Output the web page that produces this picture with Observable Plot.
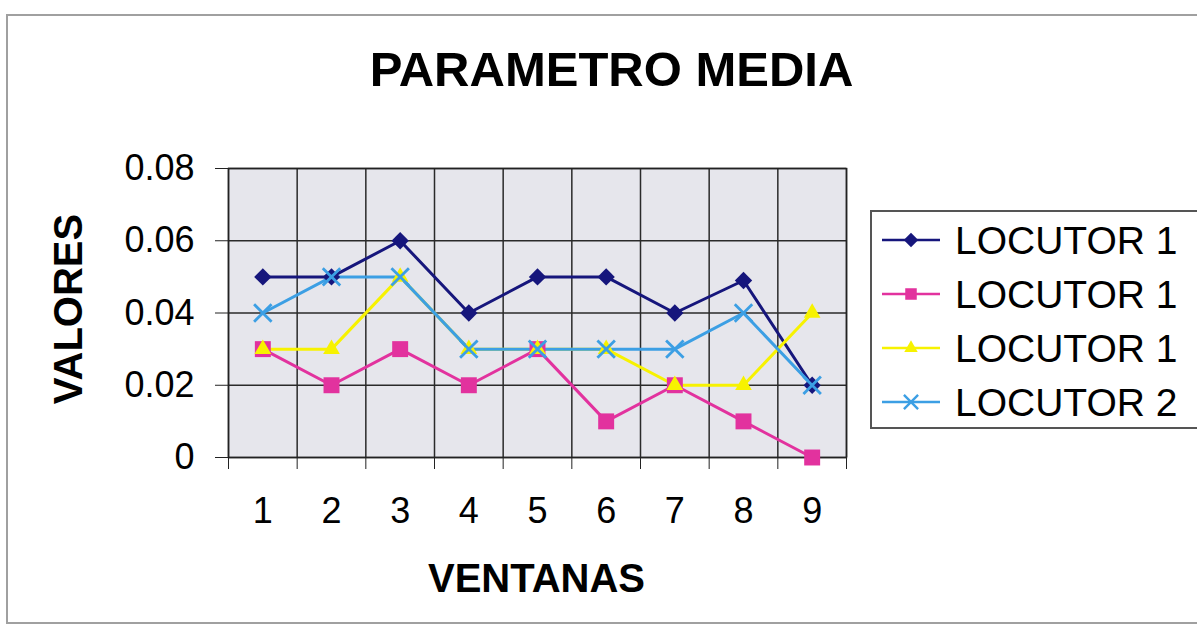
<!DOCTYPE html>
<html>
<head>
<meta charset="utf-8">
<script src="https://cdn.jsdelivr.net/npm/d3@7"></script>
<script src="https://cdn.jsdelivr.net/npm/@observablehq/plot@0.6"></script>
<style>
  body { margin: 0; background: #fff; font-family: "Liberation Sans", Arial, sans-serif; }
  #wrap { position: relative; width: 1197px; height: 628px; overflow: hidden; background: #fff; }
  #border { position: absolute; left: 6px; top: 14px; width: 1205px; height: 610px; border: 2px solid #a0a0a0; box-sizing: border-box; }
  #chart { position: absolute; left: 0; top: 0; }
  .txt { position: absolute; font-weight: bold; color: #000; line-height: 1; white-space: nowrap; text-align: center; }
  #title { left: 0; width: 1223px; top: 45px; font-size: 49px; }
  #xlabel { left: 0; width: 1073px; top: 558px; font-size: 40px; }
  #ylabel { left: -82.5px; width: 300px; top: 289px; height: 40px; font-size: 40px; transform: rotate(-90deg); }
  #legend { position: absolute; left: 870px; top: 210px; }
</style>
</head>
<body>
<div id="wrap">
  <div id="border"></div>
  <div id="chart"></div>
  <div class="txt" id="title">PARAMETRO MEDIA</div>
  <div class="txt" id="xlabel">VENTANAS</div>
  <div class="txt" id="ylabel">VALORES</div>
  <svg id="legend" width="340" height="220"></svg>
</div>
<script>
// ---- data ----
const ventanas = [1, 2, 3, 4, 5, 6, 7, 8, 9];
const seriesNames = ["LOCUTOR 1", "LOCUTOR 1", "LOCUTOR 1", "LOCUTOR 2"];
const locutorA = [0.050, 0.050, 0.060, 0.040, 0.050, 0.050, 0.040, 0.049, 0.020];
const locutorB = [0.030, 0.020, 0.030, 0.020, 0.030, 0.010, 0.020, 0.010, 0.000];
const locutorC = [0.030, 0.030, 0.050, 0.030, 0.030, 0.030, 0.020, 0.020, 0.040];
const locutorD = [0.040, 0.050, 0.050, 0.030, 0.030, 0.030, 0.030, 0.040, 0.020];
const yTicks = [0, 0.02, 0.04, 0.06, 0.08];
const yTickLabels = ["0", "0.02", "0.04", "0.06", "0.08"];

// ---- styles ----
const colors = ["#16167c", "#e2329e", "#f7f200", "#3c9fe4"];
const symbols = ["diamond2", "square", "triangle", "times"];
const radii = [7.8, 9, 6.2, 8];

const allValues = [locutorA, locutorB, locutorC, locutorD];
const rows = allValues.flatMap((vals, s) => vals.map((v, i) => ({ s, x: ventanas[i], y: v })));
const bounds = [0, ...ventanas].map(v => v + 0.5);

const W = 1197, H = 628;
const lineMarks = allValues.map((_, s) =>
  Plot.line(rows.filter(d => d.s === s), { x: "x", y: "y", stroke: colors[s], strokeWidth: 3 }));
const dotMarks = allValues.map((_, s) => {
  const isStroke = symbols[s] === "times";
  return Plot.dot(rows.filter(d => d.s === s), {
    x: "x", y: "y", r: radii[s], symbol: symbols[s],
    fill: isStroke ? "none" : colors[s],
    stroke: isStroke ? colors[s] : "none",
    strokeWidth: isStroke ? 2.8 : 0
  });
});

const chart = Plot.plot({
  width: W, height: H,
  marginLeft: 228, marginRight: 351, marginTop: 168, marginBottom: 171,
  style: { fontFamily: "'Liberation Sans', Arial, sans-serif", color: "#000", background: "transparent", overflow: "visible" },
  x: { type: "linear", domain: [0.5, 9.5] },
  y: { type: "linear", domain: [0, 0.08] },
  marks: [
    Plot.frame({ fill: "#e6e6ec", stroke: "none" }),
    Plot.gridY(yTicks, { stroke: "#2a2a2a", strokeOpacity: 1, strokeWidth: 1.5 }),
    Plot.gridX(bounds, { stroke: "#2a2a2a", strokeOpacity: 1, strokeWidth: 1.5 }),
    Plot.frame({ stroke: "#222", strokeWidth: 1.5 }),
    Plot.axisY(yTicks, { tickSize: 13, tickPadding: 21, fontSize: 36, stroke: "#222",
      tickFormat: (d) => yTickLabels[yTicks.indexOf(d)], label: null }),
    Plot.axisX(bounds, { tickSize: 12, tickFormat: () => "", stroke: "#222", label: null }),
    Plot.axisX(ventanas, { tickSize: 0, tickPadding: 40, fontSize: 36, tickFormat: d => String(d), label: null }),
    ...lineMarks,
    ...dotMarks
  ]
});
document.getElementById("chart").appendChild(chart);

// ---- legend ----
const leg = d3.select("#legend");
leg.append("rect").attr("x", 1).attr("y", 1).attr("width", 360).attr("height", 217)
  .attr("fill", "#fff").attr("stroke", "#555").attr("stroke-width", 2);
const symMap = { diamond2: d3.symbolDiamond2, square: d3.symbolSquare, triangle: d3.symbolTriangle, times: d3.symbolTimes };
const legRadii = [6.5, 6.5, 5, 6.5];
seriesNames.forEach((name, i) => {
  const cy = 30 + i * 54;
  const g = leg.append("g");
  g.append("line").attr("x1", 12).attr("x2", 70).attr("y1", cy).attr("y2", cy)
    .attr("stroke", colors[i]).attr("stroke-width", 2.6);
  const isStroke = symbols[i] === "times";
  g.append("path")
    .attr("d", d3.symbol(symMap[symbols[i]], Math.PI * legRadii[i] * legRadii[i])())
    .attr("transform", `translate(41,${cy})`)
    .attr("fill", isStroke ? "none" : colors[i])
    .attr("stroke", isStroke ? colors[i] : "none")
    .attr("stroke-width", 2.4);
  g.append("text").attr("x", 85).attr("y", cy + 13.5)
    .attr("font-family", "'Liberation Sans', Arial, sans-serif")
    .attr("font-size", 39).attr("fill", "#000").text(name);
});
</script>
</body>
</html>
